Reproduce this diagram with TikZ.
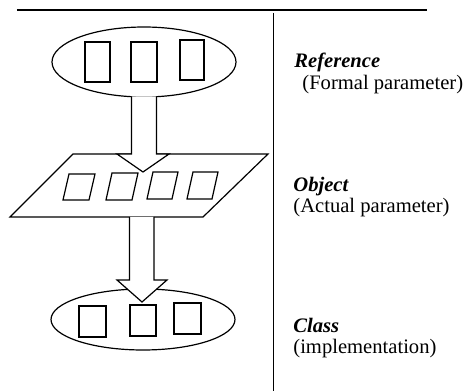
\documentclass[tikz,border=0pt]{standalone}
\usepackage{fontspec}
\setmainfont{Liberation Serif}
\usetikzlibrary{shapes.geometric}
\begin{document}
\begin{tikzpicture}[x=0.5pt,y=-0.5pt,
  outl/.style={draw=black,line width=0.6pt},
  slot/.style={draw=black,line width=0.6pt,fill=white},
  bigarrow/.style={draw=black,line width=0.6pt,fill=white,line join=miter},
  lbl/.style={anchor=base west,inner sep=0pt,font=\fontsize{10.3}{12}\selectfont},
  lblb/.style={lbl,font=\fontsize{10.3}{12}\selectfont\bfseries\itshape}]
\useasboundingbox (0,0) rectangle (463,391);
% rules
\coordinate (rl) at (17,10);
\coordinate (rr) at (427,10);
\draw[line width=1.25pt] (rl) -- (rr);
\coordinate (vt) at (273.5,13);
\coordinate (vb) at (273.5,391);
\draw[line width=0.7pt] (vt) -- (vb);
% top ellipse (Reference)
\node[outl,ellipse,minimum width=92pt,minimum height=35pt,inner sep=0pt] (ref) at (144,62) {};
\draw[slot] (85,42) rectangle (110,82);
\draw[slot] (131,42) rectangle (157,82);
\draw[slot] (180,40) rectangle (204,80);
% parallelogram (Object)
\coordinate (p1) at (73,154);
\coordinate (p2) at (268,154);
\coordinate (p3) at (203,217);
\coordinate (p4) at (10,217);
\draw[outl] (p1) -- (p2) -- (p3) -- (p4) -- cycle;
\draw[slot] (69,174) -- (95,174) -- (89,200) -- (63,200) -- cycle;
\draw[slot] (112,173) -- (138,173) -- (132,200) -- (106,200) -- cycle;
\draw[slot] (153,172) -- (178,172) -- (172,199) -- (147,199) -- cycle;
\draw[slot] (193,172) -- (218,172) -- (212,199) -- (187,199) -- cycle;
% bottom ellipse (Class)
\node[outl,ellipse,minimum width=92pt,minimum height=30.5pt,inner sep=0pt] (cls) at (143,319.5) {};
\draw[slot] (79,306) rectangle (106,337);
\draw[slot] (130,305) rectangle (156,336);
\draw[slot] (174,303) rectangle (201,334);
% arrows
\draw[bigarrow] (131.5,96.5) -- (131.5,154) -- (117,154) -- (143,172) -- (169,154) -- (156.5,154) -- (156.5,96.5);
\draw[bigarrow] (129.5,217) -- (129.5,280) -- (117,280) -- (142,302) -- (167,280) -- (154,280) -- (154,217);
% labels
\node[lblb] (t1) at (294,68) {Reference};
\node[lbl] (t1b) at (302,89.5) {(Formal parameter)};
\node[lblb] (t2) at (293,192) {Object};
\node[lbl] (t2b) at (293,213) {(Actual parameter)};
\node[lblb] (t3) at (293,333) {Class};
\node[lbl] (t3b) at (293,354) {(implementation)};
\end{tikzpicture}
\end{document}
